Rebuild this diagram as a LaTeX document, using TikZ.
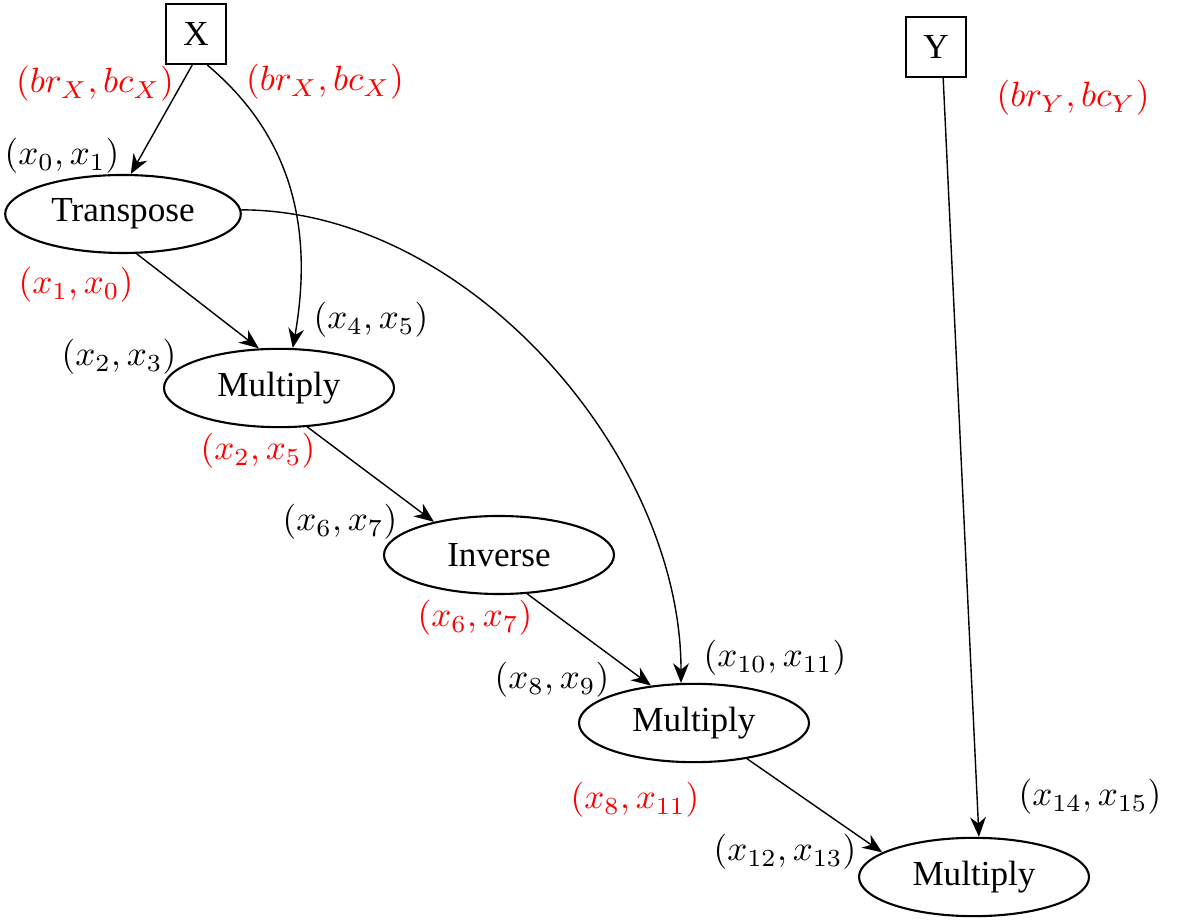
\documentclass[tikz,border=0pt]{standalone}
\usepackage[no-math]{fontspec}
\setmainfont{Liberation Serif}
\usetikzlibrary{arrows.meta, shapes.geometric}

\begin{document}
\begin{tikzpicture}[>={Stealth[length=5.6pt, width=4.5pt, inset=1.8pt]},
    op/.style={draw, semithick, ellipse, minimum width=2.3cm, minimum height=0.78cm},
    mat/.style={draw, semithick, minimum size=0.6cm},
    redlbl/.style={text=red}]
    \useasboundingbox (0, 0) rectangle (11.78, -9.22);

    \node[mat] (X) at (1.96, -0.34) {X};
    \node[mat] (Y) at (9.36, -0.47) {Y};

    \node[op] (t0) at (1.23, -2.14) {Transpose};
    \node[op] (m0) at (2.79, -3.88) {Multiply};
    \node[op] (i0) at (4.99, -5.55) {Inverse};
    \node[op] (m1) at (6.94, -7.23) {Multiply};
    \node[op] (m2) at (9.74, -8.77) {Multiply};

    \draw[->] (X.-97) -- (t0.79);
    \draw[->] (X.-70) to[out=-40, in=80] (m0.71);
    \draw[->] (t0.-71) -- (m0.117);
    \draw[->] (t0.2) to[out=0, in=90, looseness=0.9] (m1.108);
    \draw[->] (m0.-54) -- (i0.153);
    \draw[->] (i0.-54) -- (m1.139);
    \draw[->] (m1.-34) -- (m2.165);
    \draw[->] (Y.-77) -- (m2.83);

    \node[redlbl] (oX0) at (0.95, -0.84) {$(br_X, bc_X)$};
    \node[redlbl] (oX1) at (3.25, -0.82) {$(br_X, bc_X)$};
    \node[redlbl] (oY) at (10.73, -0.98) {$(br_Y, bc_Y)$};
    \node[redlbl] (ot0) at (0.76, -2.85) {$(x_1, x_0)$};
    \node[redlbl] (om0) at (2.58, -4.51) {$(x_2, x_5)$};
    \node[redlbl] (oi0) at (4.75, -6.18) {$(x_6, x_7)$};
    \node[redlbl] (om1) at (6.35, -8.00) {$(x_8, x_{11})$};

    \node (it0) at (0.62, -1.56) {$(x_0, x_1)$};
    \node (im0a) at (1.19, -3.57) {$(x_2, x_3)$};
    \node (im0b) at (3.71, -3.20) {$(x_4, x_5)$};
    \node (ii0) at (3.40, -5.22) {$(x_6, x_7)$};
    \node (im1a) at (5.52, -6.80) {$(x_8, x_9)$};
    \node (im1b) at (7.75, -6.58) {$(x_{10}, x_{11})$};
    \node (im2a) at (7.85, -8.52) {$(x_{12}, x_{13})$};
    \node (im2b) at (10.90, -7.97) {$(x_{14}, x_{15})$};
  \end{tikzpicture}
\end{document}
